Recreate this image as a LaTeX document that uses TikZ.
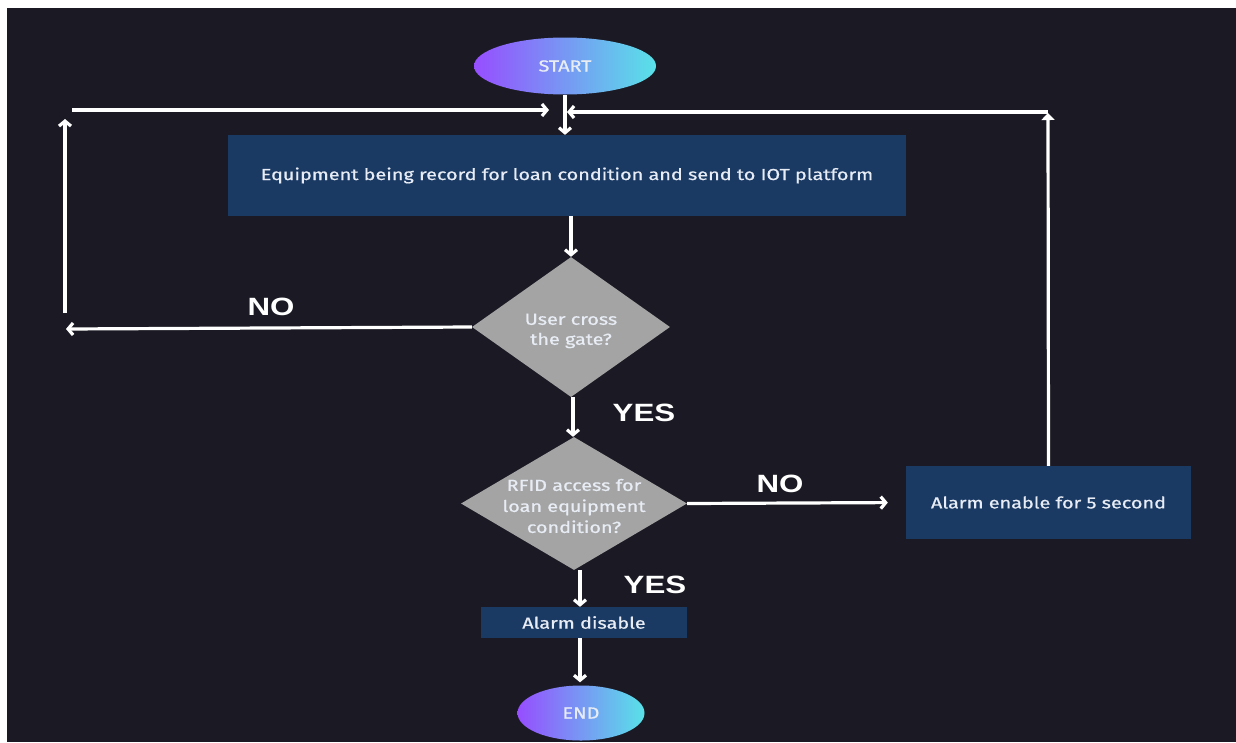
\documentclass[tikz,border=0pt]{standalone}
\usepackage{fontspec}
\setmainfont{Fira Sans}[FakeStretch=1.24,FakeBold=0.7]
\newfontfamily\lblfont{Liberation Sans}[FakeStretch=1.25]
\usetikzlibrary{shapes.geometric,arrows.meta}
\definecolor{bgc}{RGB}{27,26,36}
\definecolor{boxc}{RGB}{26,57,99}
\definecolor{dia}{RGB}{164,164,164}
\definecolor{txt}{RGB}{232,237,245}
\definecolor{gL}{RGB}{150,78,255}
\definecolor{gR}{RGB}{88,226,232}
\tikzset{
  bodytext/.style={font=\fontsize{16}{20}\selectfont, text=txt, align=center},
  term/.style={ellipse, draw=none, left color=gL, right color=gR, inner sep=0pt, bodytext},
  procbox/.style={rectangle, draw=none, fill=boxc, inner sep=0pt, bodytext},
  decision/.style={diamond, draw=none, fill=dia, inner sep=0pt},
  lbl/.style={font=\lblfont\bfseries\fontsize{25}{28}\selectfont, text=white},
  conn/.style={draw=white, line width=3.2pt, -{Straight Barb[length=5pt,width=12pt]}},
  connf/.style={draw=white, line width=3.2pt, -{Triangle[length=7pt,width=13pt]}}
}
\begin{document}
\begin{tikzpicture}[x=1pt,y=-1pt]
\fill[white] (0,0) rectangle (1236,742);
\fill[bgc] (7,8) rectangle (1236,742);
\useasboundingbox (0,0) rectangle (1236,742);

% nodes
\node[term, minimum width=182pt, minimum height=57pt] (start) at (565,66) {START};
\node[procbox, minimum width=678pt, minimum height=81pt] (rec) at (567,175.5) {Equipment being record for loan condition and send to IOT platform};
\node[decision, minimum width=198pt, minimum height=140pt] (d1) at (571,327) {};
\node[bodytext, inner sep=0pt] (d1t) at (571,331) {User cross\\the gate?};
\node[decision, minimum width=226pt, minimum height=133pt] (d2) at (574,503.5) {};
\node[bodytext, inner sep=0pt, font=\fontsize{16}{21}\selectfont] (d2t) at (574,506) {RFID access for\\loan equipment\\condition?};
\node[procbox, minimum width=285pt, minimum height=73pt] (aon) at (1048.5,502.5) {Alarm enable for 5 second};
\node[procbox, minimum width=206pt, minimum height=31pt] (aoff) at (584,622.5) {Alarm disable};
\node[term, minimum width=127pt, minimum height=55pt] (end) at (581,713) {END};

% labels
\node[lbl] (no1) at (271,307) {NO};
\node[lbl] (yes1) at (644,413) {YES};
\node[lbl] (no2) at (780,484) {NO};
\node[lbl] (yes2) at (655,585) {YES};

% helper coordinates
\coordinate (nlend) at (66,329);
\coordinate (upb) at (65,313);
\coordinate (upt) at (65,119);
\coordinate (lhs) at (72,110);
\coordinate (lhe) at (549,110);
\coordinate (rtop) at (1048,113);
\coordinate (rhs) at (1048,112);
\coordinate (rhe) at (567,112);

% connectors
\draw[conn] (start.south) -- (rec.north -| start.south);
\draw[conn] (rec.south -| d1.north) -- (d1.north);
\draw[conn] (d1.west) -- (nlend);
\draw[conn] (upb) -- (upt);
\draw[conn] (lhs) -- (lhe);
\draw[connf] (aon.north) -- (rtop);
\draw[conn] (rhs) -- (rhe);
\draw[conn] (d1.south -| 573,0) -- (d2.north -| 573,0);
\draw[conn, shorten >=18pt] (d2.east) -- (aon.west);
\draw[conn] (d2.south -| 580,0) -- (aoff.north -| 580,0);
\draw[conn, shorten >=3pt] (aoff.south -| 580,0) -- (end.north -| 580,0);
\end{tikzpicture}
\end{document}
